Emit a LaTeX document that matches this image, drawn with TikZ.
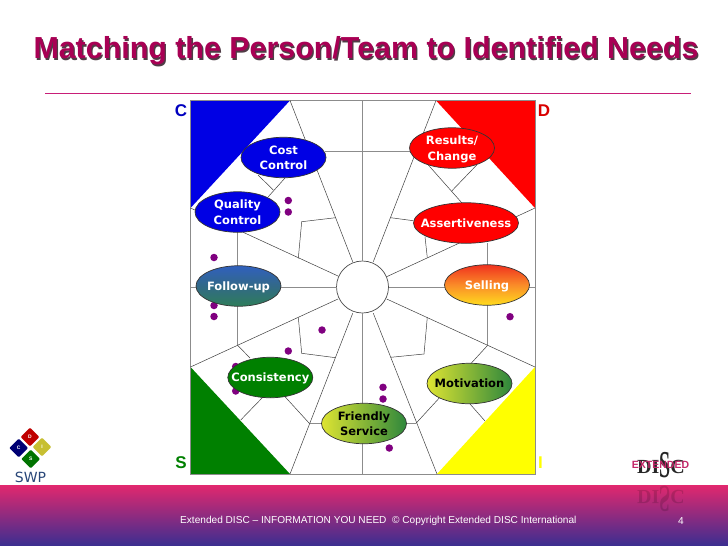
\documentclass[tikz,border=0pt]{standalone}
\usepackage{fontspec}
\setmainfont{Liberation Sans}
\newfontfamily\labelfont{DejaVu Sans}
\newfontfamily\logofont{Liberation Serif}
\definecolor{TitleRed}{RGB}{168,0,84}
\definecolor{TitleShadow}{RGB}{80,60,70}
\definecolor{RuleRed}{RGB}{200,30,120}
\definecolor{BandTop}{RGB}{226,40,110}
\definecolor{BandBot}{RGB}{58,46,145}
\definecolor{GridGray}{RGB}{140,140,140}
\definecolor{DiscBlue}{RGB}{0,0,228}
\definecolor{DiscRed}{RGB}{255,0,0}
\definecolor{DiscGreen}{RGB}{0,128,0}
\definecolor{DiscYellow}{RGB}{255,255,0}
\definecolor{DotPurple}{RGB}{128,0,128}
\definecolor{LogoNavy}{RGB}{40,70,120}
\definecolor{LogoPink}{RGB}{195,40,105}
\definecolor{FollowTop}{RGB}{48,96,190}
\definecolor{FollowMid}{RGB}{50,105,135}
\definecolor{FollowBot}{RGB}{46,125,90}
\definecolor{SellTop}{RGB}{240,50,30}
\definecolor{SellMid}{RGB}{250,140,40}
\definecolor{SellBot}{RGB}{255,220,30}
\definecolor{LimeLeft}{RGB}{222,228,50}
\definecolor{LimeRight}{RGB}{46,135,60}
\usetikzlibrary{positioning}
\usetikzlibrary{calc}
\usetikzlibrary{shapes.geometric}

\begin{document}
\begin{tikzpicture}[
      x=1pt, y=-1pt
      , need/.style={ellipse, draw=black!80, line width=0.7pt, minimum width=85pt, minimum height=40.5pt, inner xsep=-14pt, inner ysep=-10pt, text depth=0pt, align=center, font=\labelfont\fontsize{11.5}{15.5}\selectfont\bfseries}
      , light/.style={text=white}
      , dark/.style={text=black}
      , trait/.style={circle, fill=DotPurple, inner sep=0pt, minimum size=7.5pt}
      , corner/.style={font=\fontsize{17}{17}\selectfont\bfseries, inner sep=0pt}
      , grid-line/.style={draw=GridGray, line width=0.8pt}
      , wall/.style={draw=black!75, line width=0.5pt}
      , chip/.style={diamond, minimum size=19pt, inner sep=0pt, font=\fontsize{5}{5}\selectfont\bfseries, text=white, rounded corners=1pt}
      , headline/.style={font=\fontsize{30.4}{30.4}\selectfont\bfseries, inner sep=0pt}
      , footline/.style={inner sep=0pt, text=white, font=\fontsize{10.1}{10.1}\selectfont}
      , mark-disc/.style={inner sep=0pt, font=\logofont\fontsize{20}{20}\selectfont\bfseries}
      ]

      \useasboundingbox (0,0) rectangle (728,546);
      \fill[white] (0,0) rectangle (728,546);

      % title
      \node[headline, text=TitleShadow] (title-shadow) at (367.3,52.3) {Matching the Person/Team to Identified Needs};
      \node[headline, text=TitleRed] (title) at (366,51) {Matching the Person/Team to Identified Needs};
      \coordinate (rule-left) at (45,93);
      \coordinate (rule-right) at (691,93);
      \draw[draw=RuleRed, line width=0.7pt] (rule-left) -- (rule-right);

      % square corners
      \coordinate (nw) at (190.5,100.5);
      \coordinate (ne) at (535,100.5);
      \coordinate (se) at (535,474);
      \coordinate (sw) at (190.5,474);
      \coordinate (nw-a) at (290,100.5);
      \coordinate (nw-b) at (190.5,208);
      \coordinate (ne-a) at (436,100.5);
      \coordinate (ne-b) at (535,208);
      \coordinate (sw-a) at (290,474);
      \coordinate (sw-b) at (190.5,367);
      \coordinate (se-a) at (437,474);
      \coordinate (se-b) at (535,367);

      \fill[DiscBlue] (nw) -- (nw-a) -- (nw-b) -- cycle;
      \fill[DiscRed] (ne) -- (ne-a) -- (ne-b) -- cycle;
      \fill[DiscGreen] (sw) -- (sw-a) -- (sw-b) -- cycle;
      \fill[DiscYellow] (se) -- (se-a) -- (se-b) -- cycle;

      \node[circle, draw=black!70, line width=0.7pt, minimum size=52pt, inner sep=0pt] (hub) at (362.5,287) {};

      % axis lines
      \draw[grid-line] (nw) rectangle (se);
      \draw[grid-line] (362.7,100.5) -- (362.7,261);
      \draw[grid-line] (362.7,313) -- (362.7,474);
      \draw[grid-line] (190.5,287) -- (336.5,287);
      \draw[grid-line] (388.5,287) -- (535,287);
      \draw[grid-line] (325,151) -- (410,151);
      \draw[grid-line] (237.3,232) -- (237.3,345.7);
      \draw[grid-line] (487.3,243) -- (487.3,345.7);
      \draw[grid-line] (309.3,423.3) -- (416,423.3);

      % spokes
      \draw[wall] (nw-a) -- (352.7,261.7);
      \draw[wall] (ne-a) -- (373.3,261.7);
      \draw[wall] (nw-b) -- (338,276);
      \draw[wall] (ne-b) -- (386.7,276.7);
      \draw[wall] (sw-b) -- (338,299);
      \draw[wall] (se-b) -- (386.7,299);
      \draw[wall] (sw-a) -- (352.7,313.3);
      \draw[wall] (se-a) -- (373.3,313.3);

      % inner walls
      \draw[wall] (298.3,258.3) -- (301.7,221.7) -- (335.7,217.7);
      \draw[wall] (258,175) -- (273.3,190);
      \draw[wall] (285,178) -- (268.3,196.7);
      \draw[wall] (428.3,165) -- (461.7,202.7);
      \draw[wall] (476.7,165) -- (451.7,191);
      \draw[wall] (390.7,217.7) -- (413.3,220.7);
      \draw[wall] (425,236.7) -- (427.3,257.7);
      \draw[wall] (427.3,317.3) -- (424,354) -- (390.7,357.3);
      \draw[wall] (487.3,345.7) -- (416,423.3);
      \draw[wall] (470,404) -- (485,421);
      \draw[wall] (238,345.7) -- (250,358);
      \draw[wall] (262.7,397.3) -- (240.7,420);
      \draw[wall] (285,396.7) -- (309.3,423.3);
      \draw[wall] (298.3,317.3) -- (301.7,353.3) -- (335.7,357.7);

      % team members
      \node[trait] (t1) at (288.3,200.5) {};
      \node[trait] (t2) at (288.3,212) {};
      \node[trait] (t3) at (214,257.5) {};
      \node[trait] (t4) at (214,305.5) {};
      \node[trait] (t5) at (214,316.5) {};
      \node[trait] (t6) at (322,330) {};
      \node[trait] (t7) at (288.3,351) {};
      \node[trait] (t8) at (235.7,366.5) {};
      \node[trait] (t9) at (235.7,391) {};
      \node[trait] (t10) at (510,316.7) {};
      \node[trait] (t11) at (383,387.3) {};
      \node[trait] (t12) at (383,399) {};
      \node[trait] (t13) at (389.3,448) {};

      % needs
      \node[need, light, fill=DiscBlue] (cost) at (283.5,157.5) {Cost\\Control};
      \node[need, light, fill=DiscBlue] (quality) at (237.5,212) {Quality\\Control};
      \node[need, light, top color=FollowTop, bottom color=FollowBot, middle color=FollowMid] (follow) at (238.5,286) {Follow-up};
      \node[need, light, fill=DiscRed] (results) at (452,148) {Results/\\Change};
      \node[need, light, fill=DiscRed, minimum width=105pt] (assert) at (466,223) {Assertiveness};
      \node[need, light, top color=SellTop, bottom color=SellBot, middle color=SellMid] (selling) at (487,285) {Selling};
      \node[need, light, fill=DiscGreen] (consist) at (270.3,377.5) {Consistency};
      \node[need, dark, left color=LimeLeft, right color=LimeRight] (motive) at (469.5,383.5) {Motivation};
      \node[need, dark, left color=LimeLeft, right color=LimeRight] (friendly) at (364,423.5) {Friendly\\Service};

      % corner letters
      \node[corner, text=blue!75!black] (c-letter) at (181,111) {C};
      \node[corner, text=red!85!black] (d-letter) at (544,111) {D};
      \node[corner, text=DiscGreen] (s-letter) at (181,463) {S};
      \node[corner, text=DiscYellow] (i-letter) at (540.5,463) {I};

      % band
      \fill[top color=BandTop, bottom color=BandBot] (0,485) rectangle (728,546);
      \node[footline, anchor=west] (footer) at (180,521) {Extended DISC -- INFORMATION YOU NEED\ \ \textcopyright{} Copyright Extended DISC International};
      \node[footline] (page) at (681,521) {4};

      % left logo
      \node[chip, fill=red!75!black] (chip-d) at (30,437) {D};
      \node[chip, fill=blue!45!black] (chip-c) at (18.7,448) {C};
      \node[chip, fill=yellow!75!black] (chip-i) at (42,447) {I};
      \node[chip, fill=green!45!black] (chip-s) at (30.7,459) {S};
      \node[inner sep=0pt, text=LogoNavy, font=\labelfont\fontsize{14}{14}\selectfont] (swp) at (30.5,477) {SWP};

      % right logo
      \node[mark-disc, text=black!85] (disc) at (661,465) {DI\raisebox{-3.5pt}{\scalebox{1}[1.9]{S}}C};
      \node[inner sep=0pt, text=LogoPink, font=\fontsize{10.5}{10.5}\selectfont\bfseries] (extended) at (660.5,465) {EXTENDED};
      \node[mark-disc, text=black, opacity=0.15, yscale=-1] (disc-ghost) at (661,499) {DI\raisebox{-3.5pt}{\scalebox{1}[1.9]{S}}C};
    \end{tikzpicture}
\end{document}
